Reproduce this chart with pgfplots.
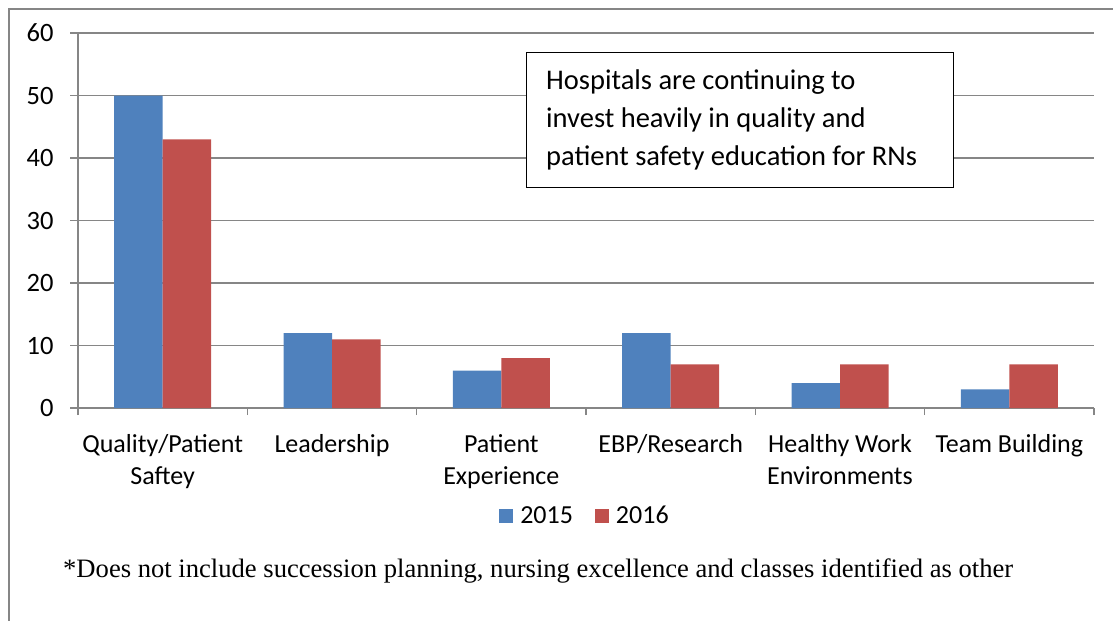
\documentclass[border=0pt]{standalone}
\usepackage{pgfplots}
\pgfplotsset{compat=1.18}
\usepackage{fontspec}
\setmainfont{Carlito}
\newfontfamily\serif{Liberation Serif}
\definecolor{cblue}{HTML}{4F81BD}
\definecolor{cred}{HTML}{C0504D}
\definecolor{cgray}{HTML}{868686}
\begin{document}
\begin{tikzpicture}
\useasboundingbox (0,0) rectangle (1113bp,-621bp);
\draw[cgray, line width=1.5bp] (9bp,-621bp) -- (9bp,-9bp) -- (1113bp,-9bp);
\begin{axis}[
  at={(78bp,-408bp)}, anchor=south west,
  scale only axis, width=1016bp, height=375bp,
  xmin=-0.5, xmax=5.5, ymin=0, ymax=60,
  ytick={0,10,...,60},
  xtick={0,...,5},
  xticklabels={Quality/Patient\\Saftey, Leadership, Patient\\Experience, EBP/Research, Healthy Work\\Environments, Team Building},
  x tick label style={align=center, font=\fontsize{26bp}{32bp}\selectfont, yshift=-15bp},
  y tick label style={font=\fontsize{26.5bp}{30bp}\selectfont, xshift=-13bp},
  /pgf/number format/assume math mode=true,
  major x tick style={draw=none},
  minor xtick={-0.5,0.5,...,5.5},
  minor tick length=7bp,
  major tick length=8bp,
  tick align=outside,
  xtick pos=bottom, ytick pos=left,
  ymajorgrids, grid style={cgray, line width=1.5bp},
  major y tick style={cgray, line width=1.5bp},
  minor x tick style={cgray, line width=1.5bp},
  axis x line*=bottom, axis y line*=left,
  axis line style={cgray, line width=1.5bp, -},
  ybar=0pt, bar width=48.5bp,
  legend style={at={(axis description cs:0.499,-0.287)}, anchor=center, draw=none,
    font=\fontsize{26bp}{30bp}\selectfont, /tikz/every even column/.append style={column sep=20bp}},
  legend columns=2,
  legend image code/.code={\fill[#1] (0bp,-7bp) rectangle (14bp,7bp);},
  legend cell align=left,
]
\addplot[fill=cblue, draw=none] coordinates {(0,50) (1,12) (2,6) (3,12) (4,4) (5,3)};
\addplot[fill=cred, draw=none] coordinates {(0,43) (1,11) (2,8) (3,7) (4,7) (5,7)};
\legend{\hspace{5bp}2015,\hspace{5bp}2016}
\end{axis}
\node[draw=black, line width=1.2bp, fill=white, anchor=north west, minimum width=427bp, minimum height=135bp, inner sep=0pt] at (526bp,-52bp) {};
\node[anchor=base west, inner sep=0pt, font=\fontsize{28.5bp}{38bp}\selectfont] at (546bp,-89bp) {Hospitals are continuing to};
\node[anchor=base west, inner sep=0pt, font=\fontsize{28.5bp}{38bp}\selectfont] at (546bp,-127bp) {invest heavily in quality and};
\node[anchor=base west, inner sep=0pt, font=\fontsize{28.5bp}{38bp}\selectfont] at (546bp,-165bp) {patient safety education for RNs};
\node[anchor=base west, inner sep=0pt, font=\serif\fontsize{26.6bp}{30bp}\selectfont] at (63bp,-577bp) {*Does not include succession planning, nursing excellence and classes identified as other};
\end{tikzpicture}
\end{document}
